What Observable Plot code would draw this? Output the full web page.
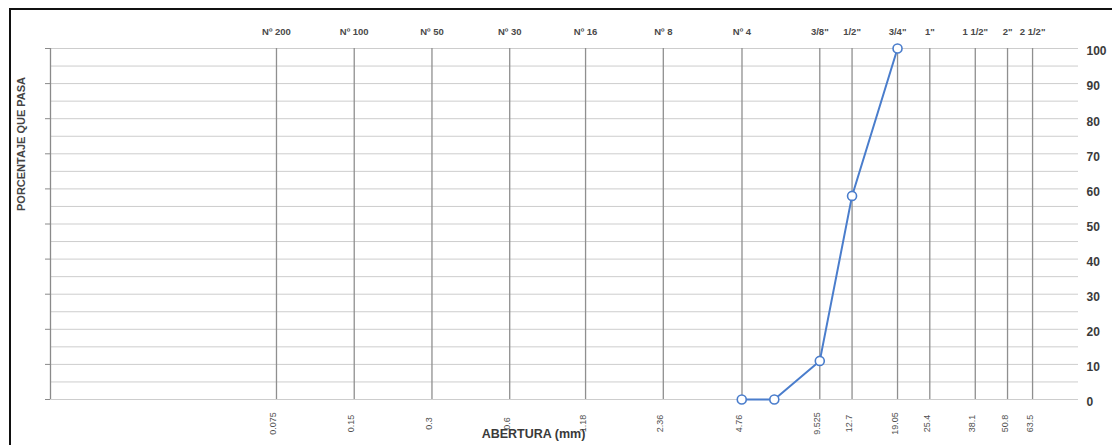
<!DOCTYPE html>
<html>
<head>
<meta charset="utf-8">
<script src="https://cdn.jsdelivr.net/npm/d3@7"></script>
<script src="https://cdn.jsdelivr.net/npm/@observablehq/plot@0.6"></script>
<style>
  html, body { margin: 0; padding: 0; background: #fff; }
  #wrap { position: relative; width: 1112px; height: 445px; overflow: hidden; }
  #border { position: absolute; left: 9px; top: 8px; right: -10px; bottom: -10px;
            border-top: 2px solid #111; border-left: 2px solid #111; pointer-events: none; }
</style>
</head>
<body>
<div id="wrap"><div id="border"></div></div>
<script>
// Sieve openings (mm) and their labels
const sieveSizes = [0.075, 0.15, 0.3, 0.6, 1.18, 2.36, 4.76, 9.525, 12.7, 19.05, 25.4, 38.1, 50.8, 63.5];
const sieveNames = ["Nº 200", "Nº 100", "Nº 50", "Nº 30", "Nº 16", "Nº 8", "Nº 4", "3/8\"", "1/2\"", "3/4\"", "1\"", "1 1/2\"", "2\"", "2 1/2\""];
const sizeLabels = ["0.075", "0.15", "0.3", "0.6", "1.18", "2.36", "4.76", "9.525", "12.7", "19.05", "25.4", "38.1", "50.8", "63.5"];

// Gradation curve
const curveSizes = [4.75, 6.35, 9.525, 12.7, 19.05];
const curvePassing = [0, 0, 11, 58, 100];

// Axes
const xDomain = [0.01, 100];
const yTicks = [0, 10, 20, 30, 40, 50, 60, 70, 80, 90, 100];
const yGrid = d3.range(0, 101, 5);

const sieves = sieveSizes.map((s, i) => ({size: s, name: sieveNames[i], label: sizeLabels[i]}));
const curve = curveSizes.map((s, i) => ({size: s, pass: curvePassing[i]}));

const blue = "#4a7dcc";
const font = "'Liberation Sans', Arial, sans-serif";

const chart = Plot.plot({
  width: 1112,
  height: 445,
  marginLeft: 50,
  marginRight: 34,
  marginTop: 48,
  marginBottom: 46,
  style: {fontFamily: font, background: "transparent", overflow: "visible"},
  x: {type: "log", domain: xDomain, range: [50, 1083], axis: null},
  y: {domain: [0, 100], range: [399, 48], axis: null},
  marks: [
    Plot.ruleY(yGrid, {y: d => d, stroke: "#cdcdcd", strokeWidth: 1}),
    Plot.ruleX([xDomain[0]], {stroke: "#8a8a8a", strokeWidth: 1.3}),
    Plot.ruleX(sieves, {x: "size", stroke: "#8f8f8f", strokeWidth: 1.3}),
    Plot.axisY(yTicks, {anchor: "left", tickSize: 5, tickFormat: () => "", stroke: "#8a8a8a", label: null}),
    Plot.axisY(yTicks, {anchor: "right", tickSize: 0, tickPadding: 8, fontSize: 12, fontWeight: "bold", fill: "#3a3a3a", dy: 3, label: null}),
    Plot.text(sieves, {x: "size", text: "name", frameAnchor: "top", dy: -20, fontSize: 9.5, fontWeight: "bold", fill: "#4a4a4a"}),
    Plot.text(sieves, {x: "size", text: "label", frameAnchor: "bottom", dy: 24, rotate: -90, textAnchor: "middle", fontSize: 9, fill: "#505050"}),
    Plot.text(["ABERTURA (mm)"], {frameAnchor: "bottom", dx: -31, dy: 38, fontSize: 12.5, fontWeight: "bold", fill: "#3a3a3a"}),
    Plot.text(["PORCENTAJE QUE PASA"], {frameAnchor: "left", dx: -29, dy: -13, rotate: -90, fontSize: 11, fontWeight: "bold", fill: "#444"}),
    Plot.line(curve, {x: "size", y: "pass", stroke: blue, strokeWidth: 2}),
    Plot.dot(curve, {x: "size", y: "pass", r: 4.5, fill: "white", stroke: blue, strokeWidth: 1.6})
  ]
});
chart.style.position = "absolute";
chart.style.left = "0";
chart.style.top = "0";
document.getElementById("wrap").prepend(chart);
</script>
</body>
</html>
